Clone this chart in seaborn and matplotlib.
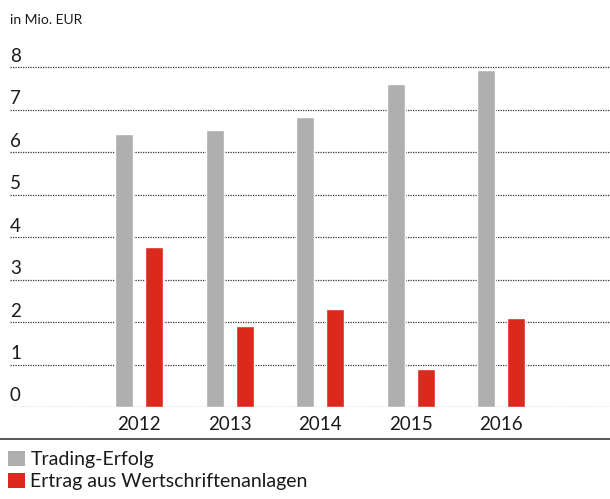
import matplotlib
matplotlib.use("Agg")
import matplotlib.pyplot as plt
import seaborn as sns
import pandas as pd
from matplotlib.lines import Line2D
from matplotlib.patches import Patch

years = ["2012", "2013", "2014", "2015", "2016"]
trading = [6.43, 6.53, 6.83, 7.61, 7.94]
ertrag = [3.77, 1.90, 2.30, 0.89, 2.09]
series_names = ["Trading-Erfolg", "Ertrag aus Wertschriftenanlagen"]
y_ticks = [0, 1, 2, 3, 4, 5, 6, 7, 8]
unit_label = "in Mio. EUR"

sns.set_theme(style="white")
plt.rcParams["font.family"] = ["Lato", "DejaVu Sans"]

df = pd.DataFrame({
    "Jahr": years * 2,
    "Wert": trading + ertrag,
    "Serie": [series_names[0]] * len(years) + [series_names[1]] * len(years),
})

W, H = 610, 499
fig = plt.figure(figsize=(W / 100, H / 100), dpi=100)
y0_px = 407.0
unit_px = 42.45
ymax = 8.1
top_px = y0_px - ymax * unit_px
ax = fig.add_axes([10 / W, 1 - y0_px / H, 1 - 10 / W, (y0_px - top_px) / H])

palette = {series_names[0]: "#AFAFAF", series_names[1]: "#DC291E"}
sns.barplot(data=df, x="Jahr", y="Wert", hue="Serie", palette=palette,
            width=0.664, gap=0.4, ax=ax, legend=False, saturation=1)

ax.set_xlim(-1.424, 5.199)
ax.set_ylim(0, ymax)
for s in ax.spines.values():
    s.set_visible(False)
ax.set_xlabel("")
ax.set_ylabel("")
ax.set_yticks([])
ax.tick_params(axis="x", length=0, pad=6.5, labelsize=13.5, labelcolor="#1a1a1a")

for t in y_ticks:
    ax.axhline(t, color="#333333", linestyle=(0, (1, 1)), linewidth=0.9, zorder=0)
    ax.text(0.0, t + 0.06, str(t), transform=ax.get_yaxis_transform(),
            ha="left", va="bottom", fontsize=13.5, color="#1a1a1a")

fig.text(10 / W, 1 - 20 / H, unit_label, ha="left", va="center",
         fontsize=10, color="#1a1a1a")

fig.add_artist(Line2D([0, 1], [1 - 439 / H, 1 - 439 / H], transform=fig.transFigure,
                      color="#3a3a3a", linewidth=1.2))

handles = [Patch(facecolor=palette[n], edgecolor="none") for n in series_names]
fig.legend(handles, series_names, loc="upper left",
           bbox_to_anchor=(8 / W, 1 - 451 / H), frameon=False,
           fontsize=14, handlelength=0.85, handleheight=0.8,
           handletextpad=0.3, labelspacing=0.25, borderpad=0,
           borderaxespad=0, labelcolor="#1a1a1a")

fig.savefig("out.png", dpi=100)
